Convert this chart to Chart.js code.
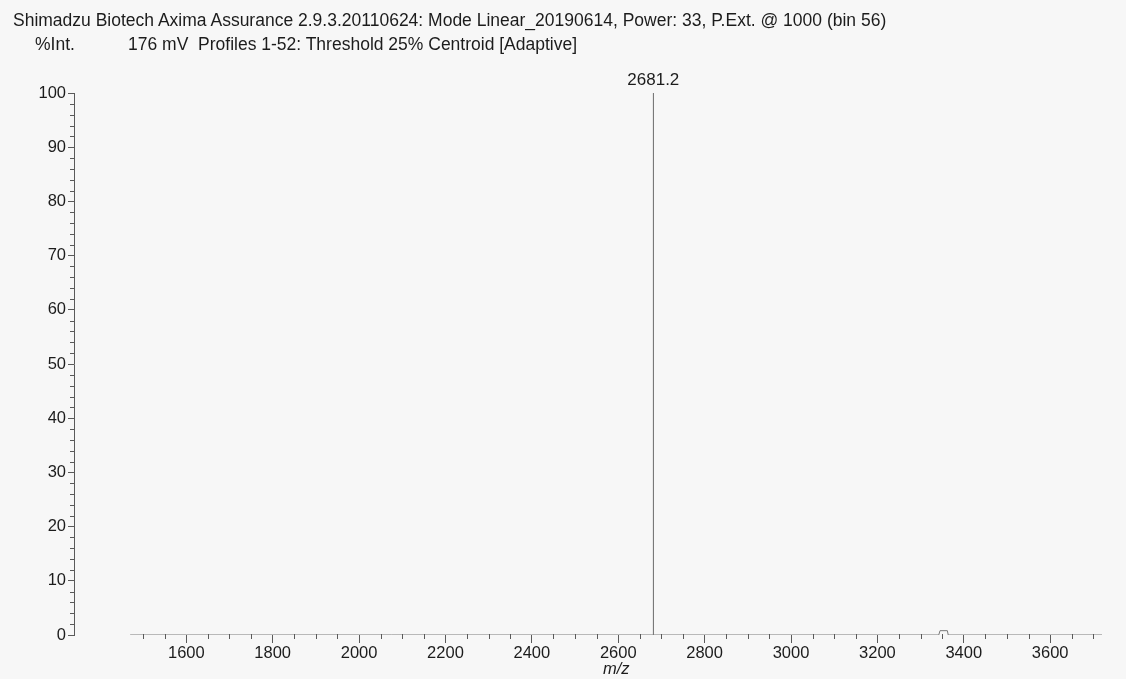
<!DOCTYPE html>
<html lang="en">
<head>
<meta charset="UTF-8">
<title>Shimadzu Axima spectrum</title>
<script src="https://cdn.jsdelivr.net/npm/chart.js"></script>
<style>
  html, body { margin: 0; padding: 0; background: #f7f7f7; }
  body {
    width: 1126px; height: 679px; position: relative; overflow: hidden;
    font-family: 'Liberation Sans', Arial, sans-serif; color: #1c1c1c;
  }
  #wrap { position: absolute; left: 0; top: 0; width: 1126px; height: 679px; }
  .txt { position: absolute; font-size: 17.5px; line-height: 1; white-space: pre; }
  #line1 { left: 13px; top: 12px; }
  #intLabel { left: 35px; top: 36px; }
  #line2 { left: 128px; top: 36px; }
  #mz { left: 603px; top: 660px; font-style: italic; font-size: 16.5px; }
</style>
</head>
<body>

<div id="wrap"><canvas id="spectrum"></canvas></div>
<div class="txt" id="line1">Shimadzu Biotech Axima Assurance 2.9.3.20110624: Mode Linear_20190614, Power: 33, P.Ext. @ 1000 (bin 56)</div>
<div class="txt" id="intLabel">%Int.</div>
<div class="txt" id="line2">176 mV  Profiles 1-52: Threshold 25% Centroid [Adaptive]</div>
<div class="txt" id="mz">m/z</div>

<script>
  // spectrum trace (m/z, %Int.)
  const spectrumMz  = [1470, 2680.6, 2681.2, 2681.8, 3342, 3345, 3362, 3364, 3720];
  const spectrumInt = [0,    0,      100,    0,      0,    0.8,  0.8,  0,    0];

  // labelled peaks
  const peakMz     = [2681.2];
  const peakInt    = [100];
  const peakLabels = ["2681.2"];

  // axis ticks
  const xMajorTicks = [1600, 1800, 2000, 2200, 2400, 2600, 2800, 3000, 3200, 3400, 3600];
  const yMajorTicks = [0, 10, 20, 30, 40, 50, 60, 70, 80, 90, 100];
  const xMinorStep = 50;
  const yMinorStep = 2;

  const inkColor = "#1c1c1c";
  const axisColor = "#5a5a5a";
  const traceColor = "#7a7a7a";
  const tickFont = { family: "'Liberation Sans', Arial, sans-serif", size: 16.5 };

  // short minor ticks + peak annotation, both placed through the scales
  const scanExtras = {
    id: "scanExtras",
    afterDraw(chart) {
      const { ctx, scales: { x, y }, chartArea } = chart;
      ctx.save();
      ctx.strokeStyle = axisColor;
      ctx.lineWidth = 1;
      ctx.beginPath();
      for (let v = 1500; v <= 3700; v += xMinorStep) {
        if (v % 200 === 0) continue;
        const px = Math.round(x.getPixelForValue(v)) + 0.5;
        ctx.moveTo(px, chartArea.bottom - 1);
        ctx.lineTo(px, chartArea.bottom + 4);
      }
      for (let v = 0; v <= 100; v += yMinorStep) {
        if (v % 10 === 0) continue;
        const py = Math.round(y.getPixelForValue(v)) + 0.5;
        ctx.moveTo(chartArea.left - 4, py);
        ctx.lineTo(chartArea.left, py);
      }
      ctx.stroke();

      ctx.fillStyle = inkColor;
      ctx.font = "17px 'Liberation Sans', Arial, sans-serif";
      ctx.textAlign = "center";
      ctx.textBaseline = "middle";
      peakMz.forEach((m, i) => {
        ctx.fillText(peakLabels[i], x.getPixelForValue(m), y.getPixelForValue(peakInt[i]) - 13);
      });
      ctx.restore();
    }
  };

  new Chart(document.getElementById("spectrum"), {
    type: "line",
    data: {
      datasets: [{
        data: spectrumMz.map((m, i) => ({ x: m, y: spectrumInt[i] })),
        borderColor: traceColor,
        borderWidth: 1,
        pointRadius: 0,
        tension: 0,
        fill: false
      }]
    },
    options: {
      responsive: true,
      maintainAspectRatio: false,
      animation: false,
      layout: { padding: { top: 93, right: 24, bottom: 0, left: 0 } },
      plugins: {
        legend: { display: false },
        tooltip: { enabled: false }
      },
      scales: {
        x: {
          type: "linear",
          min: 1340,
          max: 3720,
          afterBuildTicks: s => { s.ticks = xMajorTicks.map(v => ({ value: v })); },
          afterFit: s => { s.height = 44; },
          border: { display: false },
          grid: { drawOnChartArea: false, drawTicks: true, tickLength: 8, color: axisColor },
          ticks: {
            font: tickFont, color: inkColor, padding: 1, maxRotation: 0, autoSkip: false,
            callback: v => String(v)
          }
        },
        y: {
          min: 0,
          max: 100,
          afterBuildTicks: s => { s.ticks = yMajorTicks.map(v => ({ value: v })); },
          afterFit: s => { s.width = 74; },
          border: { display: true, color: axisColor },
          grid: { drawOnChartArea: false, drawTicks: true, tickLength: 6, color: axisColor },
          ticks: { font: tickFont, color: inkColor, padding: 2, autoSkip: false, callback: v => String(v) }
        }
      }
    },
    plugins: [scanExtras]
  });
</script>
</body>
</html>
